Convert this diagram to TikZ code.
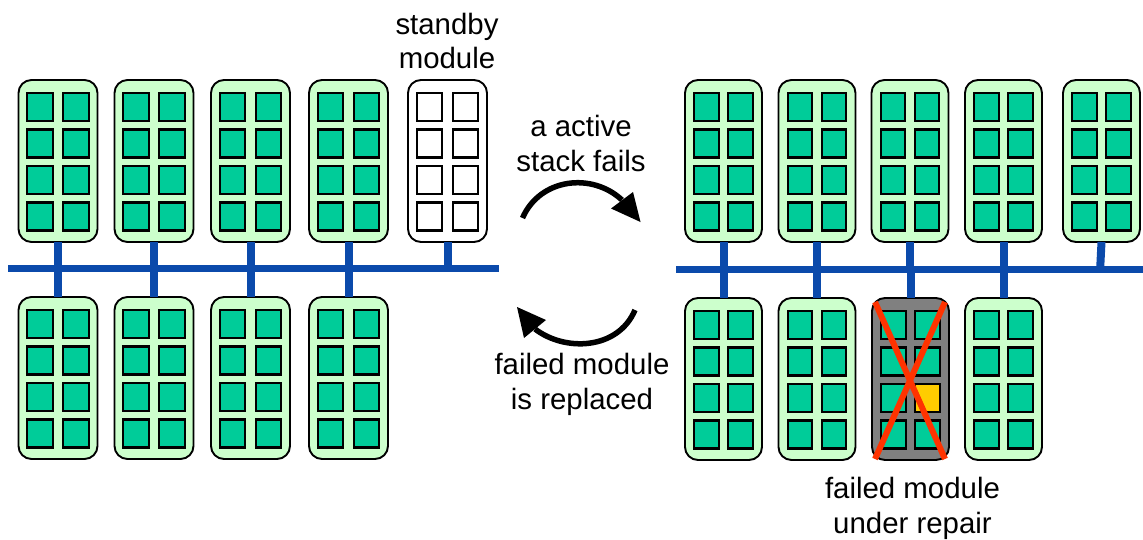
\documentclass[tikz,border=0pt]{standalone}
\usepackage{fontspec}
\setmainfont{Liberation Sans}
\definecolor{modgreen}{HTML}{CCFFCC}
\definecolor{chipgreen}{HTML}{00CC99}
\definecolor{busblue}{HTML}{0B4AAB}
\definecolor{failgray}{HTML}{808080}
\definecolor{failyellow}{HTML}{FFCC00}
\definecolor{crossred}{HTML}{FF3300}
\tikzset{
  modulebox/.style={draw=black,line width=1.9pt,rounded corners=13pt,minimum height=162pt,inner sep=0pt,outer sep=0pt},
  chip/.style={draw=black,line width=2.1pt,minimum height=28pt,inner sep=0pt,outer sep=0pt},
  busline/.style={draw=busblue,line width=7pt},
  stub/.style={draw=busblue,line width=8pt},
  caption/.style={align=center,font=\fontsize{29.4}{34.5}\selectfont,inner sep=0pt},
  turn/.style={line width=5.5pt,draw=black},
  crossline/.style={draw=crossred,line width=6pt}
}
% name, centre x, top y, width, box fill, chip fill
\newcommand{\moduleat}[6]{%
  \pgfmathsetmacro{\colgap}{#4>78?18:17}%
  \pgfmathsetmacro{\chipw}{#4>78?25.8:24.8}%
  \node[modulebox,fill=#5,minimum width=#4pt,anchor=north] (#1) at (#2,#3) {};
  \foreach \rowname/\dy in {a/27,b/63.5,c/100,d/136.5}{
    \node[chip,fill=#6,minimum width=\chipw pt] (#1\rowname l) at ([xshift=-\colgap pt,yshift=-\dy pt]#1.north) {};
    \node[chip,fill=#6,minimum width=\chipw pt] (#1\rowname r) at ([xshift=\colgap pt,yshift=-\dy pt]#1.north) {};
  }%
}
\begin{document}
\begin{tikzpicture}[x=1pt,y=-1pt]
\useasboundingbox (0,0) rectangle (1143,539);
% buses
\coordinate (lw) at (8,268.5); \coordinate (le) at (499,268.5);
\coordinate (rw) at (676,269); \coordinate (re) at (1143,269);
% left modules
\moduleat{la}{58}{80}{79}{modgreen}{chipgreen}
\moduleat{lb}{154}{80}{79}{modgreen}{chipgreen}
\moduleat{lc}{250.5}{80}{79}{modgreen}{chipgreen}
\moduleat{ld}{348.5}{80}{79}{modgreen}{chipgreen}
\moduleat{le5}{447.5}{80}{79}{white}{white}
\moduleat{lf}{58}{297}{79}{modgreen}{chipgreen}
\moduleat{lg}{154}{297}{79}{modgreen}{chipgreen}
\moduleat{lh}{250.5}{297}{79}{modgreen}{chipgreen}
\moduleat{li}{348.5}{297}{79}{modgreen}{chipgreen}
% right modules
\moduleat{ra}{723.5}{80}{77}{modgreen}{chipgreen}
\moduleat{rb}{817}{80}{77}{modgreen}{chipgreen}
\moduleat{rc}{910}{80}{77}{modgreen}{chipgreen}
\moduleat{rd}{1003.5}{80}{77}{modgreen}{chipgreen}
\moduleat{re5}{1101.5}{80}{77}{modgreen}{chipgreen}
\moduleat{rf}{723.5}{298}{77}{modgreen}{chipgreen}
\moduleat{rg}{817}{298}{77}{modgreen}{chipgreen}
\moduleat{rh}{910.5}{298}{77}{failgray}{chipgreen}
\moduleat{ri}{1003.5}{298}{77}{modgreen}{chipgreen}
\node[chip,fill=failyellow,minimum width=24.8pt] at (rhcr) {};
% cross
\draw[crossline] (875,302) -- (945,459);
\draw[crossline] (945,302) -- (875,459);
% stubs
\foreach \m in {la,lb,lc,ld,le5}{\draw[stub] (\m.south) -- (\m.south |- lw);}
\foreach \m in {lf,lg,lh,li}{\draw[stub] (\m.north) -- (\m.north |- lw);}
\foreach \m in {ra,rb,rc,rd}{\draw[stub] (\m.south) -- (\m.south |- rw);}
\foreach \m in {rf,rg,rh,ri}{\draw[stub] (\m.north) -- (\m.north |- rw);}
\coordinate (slant) at (1100,272);
\draw[stub] (re5.south) -- (slant);
\draw[busline] (lw) -- (le);
\draw[busline] (rw) -- (re);
% turning arrows
\coordinate (t1) at (522.5,218); \coordinate (t2) at (622,200);
\draw[turn] (t1) .. controls (540,178) and (592,172) .. (t2);
\fill (633,192) -- (640.5,222) -- (611,208.5) -- cycle;
\coordinate (b1) at (635,310); \coordinate (b2) at (535,329);
\draw[turn] (b1) .. controls (618,350) and (565,352) .. (b2);
\fill (517,307) -- (546,320) -- (524,338) -- cycle;
% labels
\node[caption] (standby) at (447,41) {standby\\module};
\node[caption] (fails) at (581,143.5) {a active\\stack fails};
\node[caption] (replaced) at (582,384.5) {failed module\\is replaced};
\node[caption] (repair) at (912.5,508.5) {failed module\\under repair};
\end{tikzpicture}
\end{document}
